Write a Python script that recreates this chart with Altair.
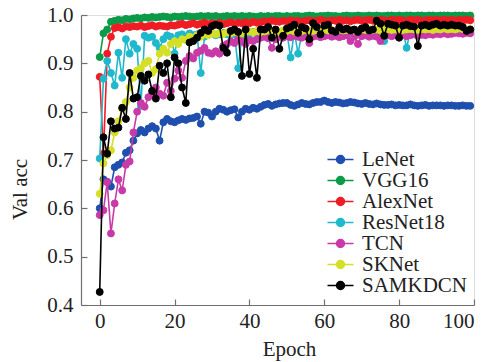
import altair as alt
import pandas as pd

epochs = list(range(100))
models = ["LeNet", "VGG16", "AlexNet", "ResNet18", "TCN", "SKNet", "SAMKDCN"]
colors = ["#1f4fae", "#0b9a48", "#f01c24", "#1fb8cd", "#c93aa8", "#d4df26", "#000000"]

lenet = [0.600, 0.660, 0.655, 0.645, 0.685, 0.690, 0.695, 0.715, 0.720, 0.740,
         0.755, 0.762, 0.757, 0.765, 0.770, 0.765, 0.740, 0.778, 0.785, 0.780,
         0.778, 0.782, 0.785, 0.783, 0.786, 0.787, 0.790, 0.775, 0.800, 0.798,
         0.790, 0.800, 0.806, 0.804, 0.800, 0.803, 0.805, 0.788, 0.800, 0.806,
         0.804, 0.808, 0.806, 0.810, 0.814, 0.816, 0.812, 0.815, 0.817, 0.818,
         0.818, 0.814, 0.812, 0.815, 0.818, 0.816, 0.815, 0.818, 0.820, 0.820,
         0.823, 0.820, 0.818, 0.820, 0.819, 0.817, 0.818, 0.820, 0.819, 0.817,
         0.816, 0.818, 0.816, 0.815, 0.817, 0.815, 0.814, 0.814, 0.815, 0.813,
         0.814, 0.813, 0.813, 0.815, 0.813, 0.812, 0.813, 0.814, 0.812, 0.813,
         0.813, 0.813, 0.812, 0.813, 0.813, 0.812, 0.812, 0.813, 0.812, 0.812]

vgg16 = [0.913, 0.962, 0.970, 0.986, 0.988, 0.990, 0.989, 0.992, 0.991, 0.993,
         0.994, 0.993, 0.995, 0.994, 0.996, 0.995, 0.996, 0.997, 0.996, 0.995,
         0.997, 0.996, 0.997, 0.998, 0.997, 0.996, 0.997, 0.998, 0.997, 0.998,
         0.997, 0.998, 0.996, 0.997, 0.998, 0.997, 0.998, 0.997, 0.998, 0.997,
         0.998, 0.997, 0.996, 0.998, 0.997, 0.998, 0.997, 0.998, 0.998, 0.997,
         0.998, 0.997, 0.998, 0.998, 0.997, 0.998, 0.999, 0.998, 0.997, 0.998,
         0.998, 0.999, 0.998, 0.998, 0.997, 0.998, 0.999, 0.998, 0.998, 0.999,
         0.998, 0.998, 0.999, 0.998, 0.999, 0.998, 0.998, 0.999, 0.999, 0.998,
         0.999, 0.998, 0.999, 0.999, 0.998, 0.999, 0.999, 0.998, 0.999, 0.999,
         0.998, 0.999, 0.999, 0.999, 0.998, 0.999, 0.999, 0.999, 0.998, 0.999]

alexnet = [0.872, 0.713, 0.920, 0.955, 0.973, 0.975, 0.972, 0.976, 0.975, 0.977,
           0.976, 0.978, 0.975, 0.977, 0.979, 0.976, 0.978, 0.977, 0.976, 0.979,
           0.978, 0.980, 0.982, 0.979, 0.981, 0.983, 0.980, 0.982, 0.984, 0.981,
           0.983, 0.982, 0.984, 0.981, 0.983, 0.985, 0.982, 0.984, 0.983, 0.985,
           0.983, 0.986, 0.984, 0.985, 0.987, 0.986, 0.988, 0.987, 0.986, 0.988,
           0.987, 0.989, 0.987, 0.988, 0.986, 0.988, 0.989, 0.987, 0.988, 0.990,
           0.988, 0.987, 0.989, 0.988, 0.990, 0.988, 0.989, 0.987, 0.989, 0.990,
           0.988, 0.989, 0.990, 0.988, 0.989, 0.990, 0.989, 0.988, 0.990, 0.989,
           0.990, 0.989, 0.988, 0.990, 0.989, 0.990, 0.988, 0.989, 0.990, 0.989,
           0.990, 0.989, 0.990, 0.989, 0.990, 0.988, 0.990, 0.989, 0.990, 0.989]

resnet18 = [0.703, 0.868, 0.905, 0.880, 0.854, 0.922, 0.870, 0.950, 0.920, 0.940,
            0.930, 0.812, 0.957, 0.953, 0.955, 0.942, 0.932, 0.950, 0.958, 0.955,
            0.920, 0.958, 0.960, 0.955, 0.962, 0.958, 0.960, 0.880, 0.955, 0.960,
            0.962, 0.958, 0.960, 0.963, 0.960, 0.958, 0.962, 0.890, 0.960, 0.963,
            0.960, 0.965, 0.962, 0.964, 0.966, 0.962, 0.964, 0.966, 0.960, 0.963,
            0.965, 0.912, 0.964, 0.920, 0.963, 0.966, 0.964, 0.967, 0.965, 0.963,
            0.966, 0.968, 0.965, 0.967, 0.964, 0.966, 0.968, 0.965, 0.967, 0.966,
            0.968, 0.966, 0.967, 0.965, 0.968, 0.966, 0.946, 0.967, 0.968, 0.966,
            0.968, 0.967, 0.932, 0.968, 0.966, 0.968, 0.967, 0.969, 0.968, 0.967,
            0.969, 0.968, 0.967, 0.969, 0.968, 0.967, 0.969, 0.968, 0.969, 0.968]

tcn = [0.586, 0.596, 0.654, 0.548, 0.610, 0.660, 0.637, 0.690, 0.697, 0.757,
       0.800, 0.818, 0.810, 0.830, 0.837, 0.850, 0.837, 0.833, 0.860, 0.843,
       0.868, 0.885, 0.870, 0.905, 0.915, 0.910, 0.922, 0.926, 0.932, 0.922,
       0.920, 0.925, 0.920, 0.936, 0.940, 0.945, 0.942, 0.950, 0.945, 0.940,
       0.948, 0.946, 0.950, 0.953, 0.955, 0.952, 0.932, 0.950, 0.955, 0.953,
       0.956, 0.954, 0.957, 0.955, 0.953, 0.956, 0.942, 0.955, 0.957, 0.954,
       0.956, 0.958, 0.955, 0.957, 0.954, 0.956, 0.958, 0.946, 0.955, 0.940,
       0.956, 0.958, 0.955, 0.957, 0.955, 0.946, 0.957, 0.958, 0.956, 0.958,
       0.957, 0.959, 0.956, 0.958, 0.960, 0.957, 0.959, 0.958, 0.960, 0.959,
       0.961, 0.960, 0.962, 0.960, 0.961, 0.963, 0.962, 0.961, 0.963, 0.962]

sknet = [0.630, 0.693, 0.710, 0.720, 0.757, 0.780, 0.806, 0.820, 0.850, 0.870,
         0.885, 0.890, 0.900, 0.905, 0.880, 0.888, 0.920, 0.930, 0.922, 0.940,
         0.946, 0.940, 0.950, 0.948, 0.955, 0.952, 0.958, 0.955, 0.960, 0.958,
         0.962, 0.960, 0.963, 0.961, 0.964, 0.962, 0.965, 0.963, 0.962, 0.965,
         0.966, 0.964, 0.967, 0.965, 0.966, 0.968, 0.966, 0.967, 0.965, 0.968,
         0.967, 0.969, 0.966, 0.968, 0.967, 0.969, 0.968, 0.967, 0.969, 0.968,
         0.970, 0.968, 0.969, 0.967, 0.970, 0.968, 0.969, 0.970, 0.968, 0.969,
         0.970, 0.969, 0.971, 0.969, 0.970, 0.968, 0.970, 0.971, 0.969, 0.970,
         0.971, 0.969, 0.970, 0.971, 0.970, 0.969, 0.971, 0.970, 0.971, 0.969,
         0.971, 0.970, 0.972, 0.970, 0.971, 0.970, 0.972, 0.971, 0.970, 0.971]

samkdcn = [0.427, 0.747, 0.713, 0.780, 0.765, 0.767, 0.808, 0.785, 0.880, 0.827,
           0.830, 0.874, 0.864, 0.877, 0.843, 0.827, 0.895, 0.880, 0.900, 0.830,
           0.912, 0.900, 0.850, 0.818, 0.943, 0.946, 0.953, 0.963, 0.970, 0.967,
           0.977, 0.980, 0.978, 0.932, 0.922, 0.967, 0.970, 0.965, 0.874, 0.970,
           0.878, 0.930, 0.870, 0.970, 0.970, 0.975, 0.953, 0.970, 0.930, 0.957,
           0.972, 0.975, 0.980, 0.963, 0.975, 0.972, 0.950, 0.983, 0.975, 0.960,
           0.978, 0.980, 0.968, 0.965, 0.975, 0.970, 0.972, 0.968, 0.970, 0.965,
           0.972, 0.975, 0.968, 0.970, 0.988, 0.982, 0.957, 0.982, 0.980, 0.978,
           0.953, 0.978, 0.980, 0.977, 0.976, 0.936, 0.978, 0.980, 0.977, 0.980,
           0.982, 0.978, 0.980, 0.978, 0.980, 0.978, 0.978, 0.975, 0.967, 0.970]

x_ticks = [0, 20, 40, 60, 80, 100]
y_ticks = [0.4, 0.5, 0.6, 0.7, 0.8, 0.9, 1.0]

series = dict(zip(models, [lenet, vgg16, alexnet, resnet18, tcn, sknet, samkdcn]))
rows = []
for m in models:
    for e, v in zip(epochs, series[m]):
        rows.append({"Epoch": e, "acc": v, "model": m})
df = pd.DataFrame(rows)

W, H = 393, 290
FONT = "Liberation Serif"
AX = "#707070"
TXT = "#222222"

x_scale = alt.Scale(domain=[-5, 100], nice=False, zero=False)
y_scale = alt.Scale(domain=[0.4, 1.0], nice=False, zero=False)
c_scale = alt.Scale(domain=models, range=colors)

x_axis = alt.Axis(title="Epoch", values=x_ticks, ticks=False, grid=False,
                  domainColor=AX, domainWidth=1.2,
                  labelFont=FONT, labelFontSize=21, labelColor=TXT, labelPadding=5,
                  titleFont=FONT, titleFontSize=21, titleFontWeight="normal",
                  titleColor=TXT, titleX=208, titleY=50, titleAlign="center",
                  titleBaseline="alphabetic")
y_axis = alt.Axis(title="Val acc", values=y_ticks, format=".1f", ticks=False,
                  grid=False, domainColor=AX, domainWidth=1.2,
                  labelFont=FONT, labelFontSize=21, labelColor=TXT, labelPadding=8,
                  titleFont=FONT, titleFontSize=21, titleFontWeight="normal",
                  titleColor=TXT, titleX=-55, titleY=174, titleAlign="center",
                  titleBaseline="alphabetic", titleAngle=270)

legend = alt.Legend(title=None, orient="none", legendX=249, legendY=134,
                    symbolType="M-2.6,0L2.6,0M-0.8,0A0.8,0.8,0,1,0,0.8,0A0.8,0.8,0,1,0,-0.8,0Z",
                    symbolSize=100, symbolStrokeWidth=1.5,
                    labelFont=FONT, labelFontSize=21, labelColor=TXT,
                    labelOffset=11, rowPadding=-1.2, padding=0)

layers = []
for m in models:
    base = alt.Chart(df).transform_filter(alt.datum.model == m)
    enc_x = alt.X("Epoch:Q", scale=x_scale, axis=x_axis)
    enc_y = alt.Y("acc:Q", scale=y_scale, axis=y_axis)
    line = base.mark_line(strokeWidth=1.6).encode(
        x=enc_x, y=enc_y,
        color=alt.Color("model:N", scale=c_scale, legend=legend),
    )
    pts = base.mark_point(filled=True, size=48, opacity=1, strokeWidth=1).encode(
        x=enc_x, y=enc_y,
        color=alt.Color("model:N", scale=c_scale, legend=legend),
        stroke=alt.Stroke("model:N", scale=c_scale, legend=legend),
    )
    layers += [line, pts]

main = alt.layer(*layers)

tick_layer = alt.Chart(df).mark_point(opacity=0).encode(
    x=alt.X("Epoch:Q", scale=x_scale,
            axis=alt.Axis(orient="top", offset=-H, labels=False, domain=False,
                          ticks=True, tickSize=6, tickColor=AX, tickWidth=1.2,
                          values=x_ticks, title=None, grid=False)),
    y=alt.Y("acc:Q", scale=y_scale,
            axis=alt.Axis(orient="right", offset=-W, labels=False, domain=False,
                          ticks=True, tickSize=6, tickColor=AX, tickWidth=1.2,
                          values=y_ticks, title=None, grid=False)),
)

chart = alt.layer(main, tick_layer).resolve_axis(
    x="independent", y="independent"
).properties(
    width=W, height=H,
    autosize=alt.AutoSizeParams(type="none"),
    padding={"left": 73, "top": 7, "right": 10, "bottom": 56},
    background="white",
).configure_view(stroke=None).configure(font=FONT)

chart.save("out.html", embed_options={"renderer": "svg", "actions": False})
